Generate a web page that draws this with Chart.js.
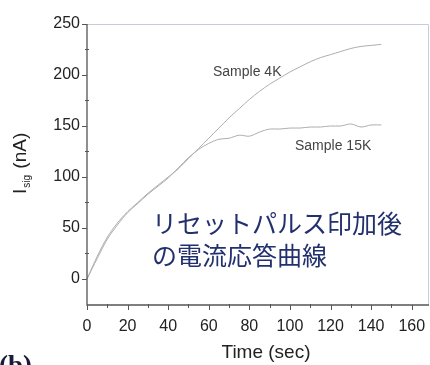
<!DOCTYPE html>
<html>
<head>
<meta charset="utf-8">
<script src="https://cdn.jsdelivr.net/npm/chart.js@4/dist/chart.umd.min.js"></script>
<style>
  html, body { margin: 0; padding: 0; background: #fff; }
  #wrap { width: 430px; height: 365px; position: relative; }
</style>
</head>
<body>
<div id="wrap"><canvas id="c" width="430" height="365"></canvas></div>
<script>
// time axis (sec) and the two measured curves (nA)
const times = [0, 5, 10, 15, 20, 25, 30, 35, 40, 45, 50, 55, 60, 65, 70, 75, 80, 85, 90, 95, 100, 105, 110, 115, 120, 125, 130, 135, 140, 145];
const sample4K = [0, 22, 41, 55, 66, 75, 84, 92, 100, 108, 118, 128, 138, 148, 158, 167, 176, 184, 191, 197, 203, 208, 213, 217, 220, 223, 226, 228, 229, 230];
const sample15K = [0, 20, 39, 53, 65, 74, 83, 91, 99, 109, 119, 127, 133, 137, 138, 141, 140, 144, 147, 147, 148, 148, 149, 149, 150, 150, 152, 149, 151, 151];

const xTicks = [0, 20, 40, 60, 80, 100, 120, 140, 160];
const xMinorTicks = [10, 30, 50, 70, 90, 110, 130, 150];
const yTicks = [0, 50, 100, 150, 200, 250];
const yMinorTicks = [25, 75, 125, 175, 225];

const seriesLabels = ["Sample 4K", "Sample 15K"];
const noteLines = ["リセットパルス印加後", "の電流応答曲線"];
const panelLabel = "(b)";

const toPoints = (ys) => ys.map((y, i) => ({ x: times[i], y: y }));

const decorPlugin = {
  id: "decor",
  afterDraw(chart) {
    const ctx = chart.ctx;
    const a = chart.chartArea;
    const xs = chart.scales.x;
    const ys = chart.scales.y;
    ctx.save();

    // light frame on top and right
    ctx.strokeStyle = "#c9cbdc";
    ctx.lineWidth = 1;
    ctx.beginPath();
    ctx.moveTo(a.left, a.top + 0.5);
    ctx.lineTo(a.right - 0.5, a.top + 0.5);
    ctx.lineTo(a.right - 0.5, a.bottom);
    ctx.stroke();

    // axes
    ctx.strokeStyle = "#555";
    ctx.lineWidth = 1.3;
    ctx.beginPath();
    ctx.moveTo(a.left, a.top);
    ctx.lineTo(a.left, a.bottom);
    ctx.lineTo(a.right, a.bottom);
    ctx.stroke();

    // tick marks
    ctx.lineWidth = 1;
    ctx.beginPath();
    xTicks.forEach(v => {
      const px = Math.round(xs.getPixelForValue(v)) + 0.5;
      ctx.moveTo(px, a.bottom); ctx.lineTo(px, a.bottom + 5);
    });
    xMinorTicks.forEach(v => {
      const px = Math.round(xs.getPixelForValue(v)) + 0.5;
      ctx.moveTo(px, a.bottom - 1); ctx.lineTo(px, a.bottom + 3);
    });
    yTicks.forEach(v => {
      const py = Math.round(ys.getPixelForValue(v)) + 0.5;
      ctx.moveTo(a.left - 5, py); ctx.lineTo(a.left, py);
    });
    yMinorTicks.forEach(v => {
      const py = Math.round(ys.getPixelForValue(v)) + 0.5;
      ctx.moveTo(a.left - 2, py); ctx.lineTo(a.left + 2, py);
    });
    ctx.stroke();

    // series labels
    ctx.fillStyle = "#444";
    ctx.font = "14px 'Liberation Sans', Arial, sans-serif";
    ctx.textBaseline = "middle";
    ctx.textAlign = "left";
    ctx.fillText(seriesLabels[0], 213, 72);
    ctx.fillText(seriesLabels[1], 295, 146);

    // japanese note
    ctx.fillStyle = "#22306e";
    ctx.font = "25px 'Noto Sans CJK JP', sans-serif";
    ctx.fillText(noteLines[0], 152, 223);
    ctx.fillText(noteLines[1], 152, 255);

    // x title
    ctx.fillStyle = "#222";
    ctx.font = "19px 'Liberation Sans', Arial, sans-serif";
    ctx.textAlign = "center";
    ctx.fillText("Time (sec)", 266, 353);

    // y title: I_sig (nA), rotated
    ctx.translate(21, 194);
    ctx.rotate(-Math.PI / 2);
    ctx.textAlign = "left";
    ctx.textBaseline = "middle";
    ctx.font = "19px 'Liberation Sans', Arial, sans-serif";
    ctx.fillText("I", 0, 0);
    const iw = ctx.measureText("I").width;
    ctx.font = "10px 'Liberation Sans', Arial, sans-serif";
    ctx.fillText("sig", iw + 1, 6);
    const sw = ctx.measureText("sig").width;
    ctx.font = "19px 'Liberation Sans', Arial, sans-serif";
    ctx.fillText(" (nA)", iw + sw + 2, 0);
    ctx.setTransform(1, 0, 0, 1, 0, 0);

    // panel label, mostly cut off at the bottom
    ctx.fillStyle = "#1a1a3a";
    ctx.font = "bold 27px 'Liberation Serif', serif";
    ctx.textAlign = "left";
    ctx.textBaseline = "top";
    ctx.fillText(panelLabel, -1, 354);

    ctx.restore();
  }
};

new Chart(document.getElementById("c"), {
  type: "line",
  data: {
    datasets: [
      {
        label: seriesLabels[0],
        data: toPoints(sample4K),
        borderColor: "#adadb2",
        borderWidth: 1,
        pointRadius: 0,
        tension: 0.3,
        fill: false,
      },
      {
        label: seriesLabels[1],
        data: toPoints(sample15K),
        borderColor: "#adadb2",
        borderWidth: 1,
        pointRadius: 0,
        tension: 0.3,
        fill: false,
      },
    ],
  },
  options: {
    responsive: false,
    animation: false,
    layout: { padding: { left: 0, top: 24, right: 1, bottom: 0 } },
    plugins: {
      legend: { display: false },
      tooltip: { enabled: false },
    },
    scales: {
      x: {
        type: "linear",
        min: 0,
        max: 168.5,
        afterBuildTicks: (s) => { s.ticks = xTicks.map(v => ({ value: v })); },
        afterFit: (s) => { s.height = 60; s.paddingLeft = 0; s.paddingRight = 0; },
        grid: { display: false, drawTicks: false },
        border: { display: false },
        ticks: {
          padding: 12,
          color: "#222",
          font: { family: "'Liberation Sans', Arial, sans-serif", size: 16 },
          maxRotation: 0,
        },
        title: { display: false },
      },
      y: {
        type: "linear",
        min: -25.5,
        max: 250,
        afterBuildTicks: (s) => { s.ticks = yTicks.map(v => ({ value: v })); },
        afterFit: (s) => { s.width = 87; s.paddingTop = 0; s.paddingBottom = 0; },
        grid: { display: false, drawTicks: false },
        border: { display: false },
        ticks: {
          padding: 7,
          color: "#222",
          font: { family: "'Liberation Sans', Arial, sans-serif", size: 16 },
        },
        title: { display: false },
      },
    },
  },
  plugins: [decorPlugin],
});
</script>
</body>
</html>
